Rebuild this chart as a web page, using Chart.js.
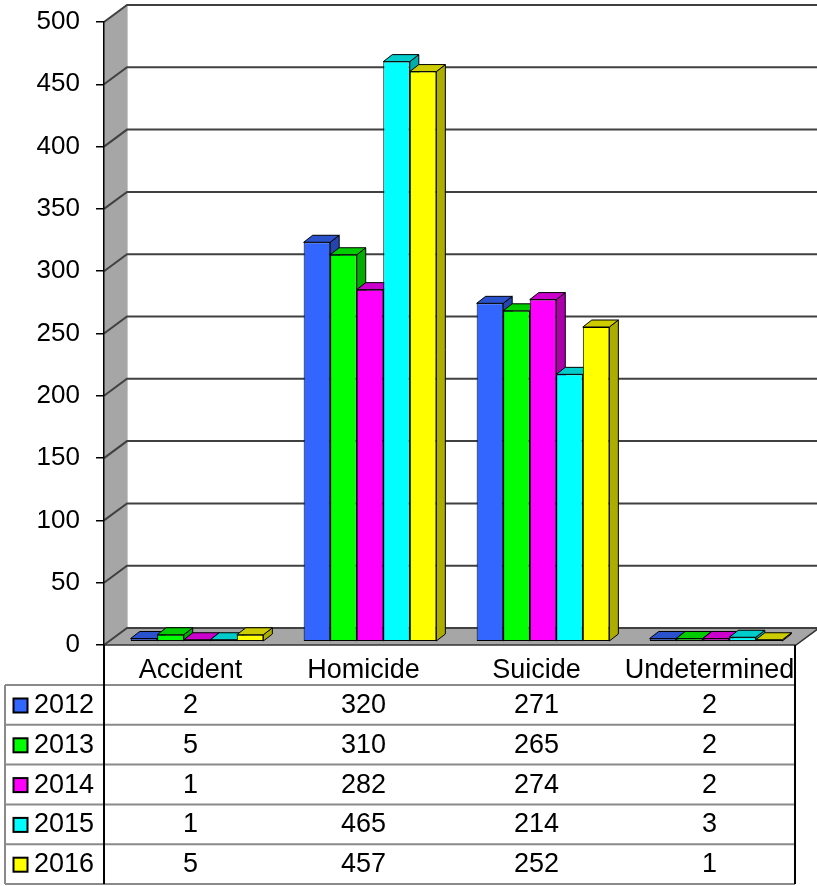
<!DOCTYPE html>
<html><head><meta charset="utf-8">
<script src="https://cdn.jsdelivr.net/npm/chart.js@4.4.1/dist/chart.umd.min.js"></script>
<style>html,body{margin:0;padding:0;background:#fff}#wrap{width:817px;height:886px;position:relative}</style>
</head><body><div id="wrap"><canvas id="c" width="817" height="886"></canvas></div>
<script>
// ---- data ----
const categories = ['Accident', 'Homicide', 'Suicide', 'Undetermined'];
const seriesNames = ['2012', '2013', '2014', '2015', '2016'];
const v2012 = [2, 320, 271, 2];
const v2013 = [5, 310, 265, 2];
const v2014 = [1, 282, 274, 2];
const v2015 = [1, 465, 214, 3];
const v2016 = [5, 457, 252, 1];
const yMin = 0, yMax = 500, yStep = 50;

const seriesValues = [v2012, v2013, v2014, v2015, v2016];
const colors = ['#3366FF', '#00FF00', '#FF00FF', '#00FFFF', '#FFFF00'];

// ---- 3D styling ----
const DX = 23, DY = 17;          // wall depth
const BDX = 9, BDY = 7;          // bar depth
const PLOT_W = 692, PLOT_H = 623;
const SHIFT_X = 6.5 / (PLOT_W / categories.length);  // in category units
const SHIFT_Y = 4 * (yMax - yMin) / PLOT_H;           // in value units
const FONT = '"Liberation Sans", Arial, sans-serif';

function shade(hex, f) {
  const n = parseInt(hex.slice(1), 16);
  const r = Math.round(((n >> 16) & 255) * f), g = Math.round(((n >> 8) & 255) * f), b = Math.round((n & 255) * f);
  return `rgb(${r},${g},${b})`;
}
function poly(ctx, pts, fill, stroke, lw) {
  ctx.beginPath();
  ctx.moveTo(pts[0][0], pts[0][1]);
  for (let i = 1; i < pts.length; i++) ctx.lineTo(pts[i][0], pts[i][1]);
  ctx.closePath();
  if (fill) { ctx.fillStyle = fill; ctx.fill(); }
  if (stroke) { ctx.strokeStyle = stroke; ctx.lineWidth = lw || 1; ctx.stroke(); }
}

const threeD = {
  id: 'threeD',
  beforeDraw(chart) {
    const ctx = chart.ctx, y = chart.scales.y, x = chart.scales.x;
    const L = x.left, R = x.right, T = y.getPixelForValue(yMax), B = y.getPixelForValue(yMin);
    ctx.save();
    ctx.fillStyle = '#fff'; ctx.fillRect(0, 0, chart.width, chart.height);
    poly(ctx, [[L, T], [L + DX, T - DY], [L + DX, B - DY], [L, B]], '#a6a6a6');
    poly(ctx, [[L, B], [L + DX, B - DY], [R + DX, B - DY], [R, B]], '#a6a6a6');
    ctx.strokeStyle = '#c8c8c8'; ctx.lineWidth = 1;
    ctx.beginPath(); ctx.moveTo(L + DX + 0.5, T - DY); ctx.lineTo(L + DX + 0.5, B - DY); ctx.stroke();
    ctx.strokeStyle = '#404040'; ctx.lineWidth = 2;
    for (let v = yMin; v <= yMax; v += yStep) {
      const py = y.getPixelForValue(v);
      ctx.beginPath(); ctx.moveTo(L, py); ctx.lineTo(L + DX, py - DY); ctx.lineTo(R + DX + 2, py - DY); ctx.stroke();
    }
    ctx.strokeStyle = '#333'; ctx.lineWidth = 1.5;
    ctx.beginPath(); ctx.moveTo(L, B); ctx.lineTo(R, B); ctx.lineTo(R + DX, B - DY); ctx.stroke();
    ctx.restore();
  },
  beforeDatasetsDraw(chart) {
    const ctx = chart.ctx;
    ctx.save();
    ctx.lineJoin = 'miter';
    chart.data.datasets.forEach((ds, di) => {
      const meta = chart.getDatasetMeta(di);
      const c = ds.backgroundColor;
      meta.data.forEach(el => {
        const p = el.getProps(['x', 'y', 'base', 'width'], true);
        const xl = p.x - p.width / 2, xr = p.x + p.width / 2;
        poly(ctx, [[xr, p.y], [xr + BDX, p.y - BDY], [xr + BDX, p.base - BDY], [xr, p.base]], shade(c, 0.68), '#000', 1);
        poly(ctx, [[xl, p.y], [xl + BDX, p.y - BDY], [xr + BDX, p.y - BDY], [xr, p.y]], shade(c, 0.8), '#000', 1);
      });
    });
    ctx.restore();
  },
  afterDraw(chart) {
    const ctx = chart.ctx, x = chart.scales.x, y = chart.scales.y;
    const L = x.left, R = x.right - 1, top = y.getPixelForValue(yMin);
    const rowH = 39.8, headH = 40;
    const t0 = top + headH;
    const nRows = seriesNames.length;
    const bottom = t0 + nRows * rowH;
    ctx.save();
    ctx.strokeStyle = '#8a8a8a'; ctx.lineWidth = 2;
    for (let i = 0; i <= nRows; i++) {
      const yy = t0 + i * rowH;
      ctx.beginPath(); ctx.moveTo(5, yy); ctx.lineTo(R, yy); ctx.stroke();
    }
    ctx.beginPath(); ctx.moveTo(5, t0); ctx.lineTo(5, bottom); ctx.stroke();
    ctx.strokeStyle = '#000'; ctx.lineWidth = 2;
    ctx.beginPath(); ctx.moveTo(L, top); ctx.lineTo(L, bottom); ctx.stroke();
    ctx.beginPath(); ctx.moveTo(R, top); ctx.lineTo(R, bottom); ctx.stroke();
    ctx.fillStyle = '#000';
    ctx.font = '27px ' + FONT;
    ctx.textBaseline = 'alphabetic';
    ctx.textAlign = 'center';
    categories.forEach((cat, ci) => {
      ctx.fillText(cat, x.getPixelForValue(ci), top + 33);
    });
    seriesNames.forEach((name, si) => {
      const rt = t0 + si * rowH;
      const bl = rt + 28;
      ctx.fillStyle = colors[si];
      ctx.fillRect(13.5, rt + 13.5, 14, 14);
      ctx.strokeStyle = '#000'; ctx.lineWidth = 2;
      ctx.strokeRect(13.5, rt + 13.5, 14, 14);
      ctx.fillStyle = '#000';
      ctx.textAlign = 'left';
      ctx.fillText(name, 34, bl);
      ctx.textAlign = 'center';
      seriesValues[si].forEach((v, ci) => {
        ctx.fillText(String(v), x.getPixelForValue(ci), bl);
      });
    });
    ctx.restore();
  }
};

const datasets = seriesNames.map((name, si) => ({
  label: name,
  data: seriesValues[si].map((v, ci) => ({ x: ci, y: v })),
  backgroundColor: colors[si],
  borderColor: '#000',
  borderWidth: 1,
  borderSkipped: false,
  xAxisID: 'x2',
  yAxisID: 'y2',
  categoryPercentage: 0.767,
  barPercentage: 1
}));

new Chart(document.getElementById('c'), {
  type: 'bar',
  data: { labels: categories, datasets },
  options: {
    responsive: false,
    animation: false,
    devicePixelRatio: 1,
    layout: { padding: { left: 0, right: 21, top: 22, bottom: 241 } },
    plugins: { legend: { display: false }, tooltip: { enabled: false } },
    scales: {
      x: { type: 'category', display: false },
      x2: {
        type: 'linear', display: false, offset: false, bounds: 'data',
        grid: { offset: false },
        min: -0.5 - SHIFT_X, max: categories.length - 0.5 - SHIFT_X,
        afterBuildTicks: s => { s.ticks = [{ value: 0 }]; }
      },
      y: {
        type: 'linear', position: 'left',
        min: yMin, max: yMax,
        ticks: { stepSize: yStep, color: '#000', padding: 16, font: { family: FONT, size: 26 } },
        grid: { drawOnChartArea: false, drawTicks: true, tickLength: 8, color: '#000', lineWidth: 1.5 },
        border: { display: true, color: '#000', width: 1.5 },
        afterFit: s => { s.width = 104; s.paddingTop = 0; s.paddingBottom = 0; }
      },
      y2: {
        type: 'linear', display: false,
        min: yMin - SHIFT_Y, max: yMax - SHIFT_Y
      }
    }
  },
  plugins: [threeD]
});
</script>
</body></html>
